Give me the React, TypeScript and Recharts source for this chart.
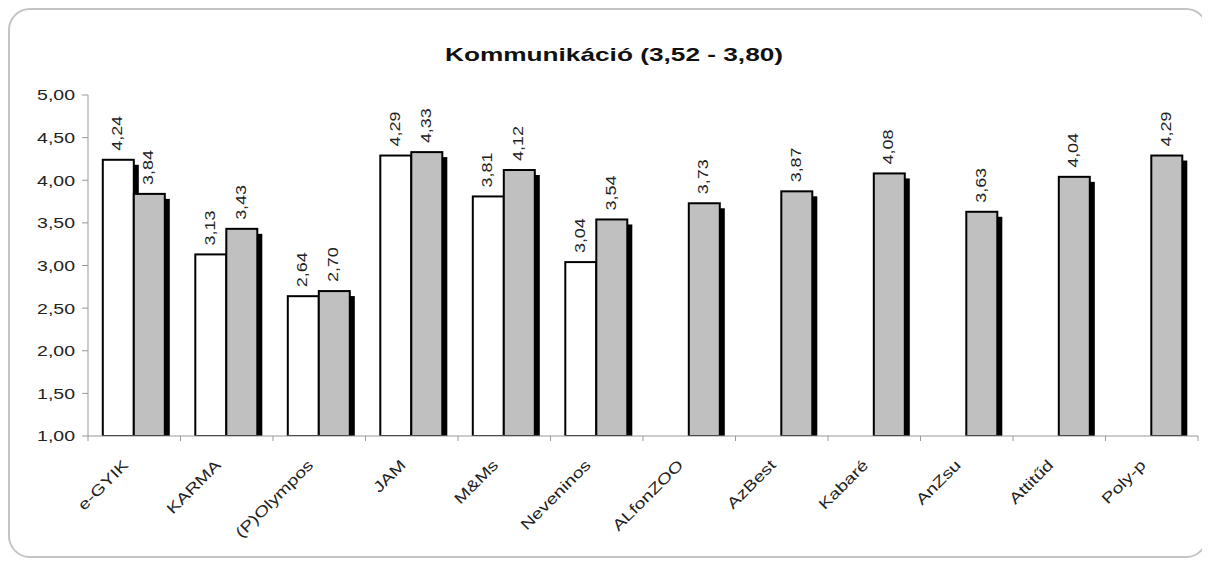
import React from 'react';
import { BarChart, Bar, XAxis, YAxis, LabelList } from 'recharts';

const FONT = '"Liberation Sans", Arial, sans-serif';
// the source renders its text noticeably wide, so glyphs get stretched along the baseline
const STRETCH = 1.3;

const teams = ['e-GYIK', 'KARMA', '(P)Olympos', 'JAM', 'M&Ms', 'Neveninos', 'ALfonZOO', 'AzBest', 'Kabaré', 'AnZsu', 'Attitűd', 'Poly-p'];
const whiteValues = [4.24, 3.13, 2.64, 4.29, 3.81, 3.04, null, null, null, null, null, null];
const grayValues = [3.84, 3.43, 2.7, 4.33, 4.12, 3.54, 3.73, 3.87, 4.08, 3.63, 4.04, 4.29];
const yTicks = [1, 1.5, 2, 2.5, 3, 3.5, 4, 4.5, 5];

const data = teams.map((name, i) => ({ name, a: whiteValues[i], b: grayValues[i] }));

const fmt = (v: number) => v.toFixed(2).replace('.', ',');

const ShadowBar = (props: any) => {
  const { x, y, width, height, fill } = props;
  if (height == null || height <= 0) return null;
  return (
    <g>
      <rect x={x + 5} y={y + 5} width={width} height={Math.max(height - 5, 0)} fill="#000" />
      <rect x={x} y={y} width={width} height={height} fill={fill} stroke="#000" strokeWidth={2} />
    </g>
  );
};

const ValueLabel = (props: any) => {
  const { x, y, width, value } = props;
  if (value == null) return null;
  const cx = x + width / 2 + 4;
  const cy = y - 9;
  return (
    <text transform={`translate(${cx},${cy}) rotate(-90) scale(${STRETCH * 0.92},1)`} textAnchor="start"
      fontSize={15} fontFamily={FONT} fill="#222">
      {fmt(value)}
    </text>
  );
};

const ValueTick = (props: any) => {
  const { x, y, payload } = props;
  return (
    <text transform={`translate(${x - 5},${y}) scale(${STRETCH},1)`} textAnchor="end" dy="0.36em"
      fontSize={15} fontFamily={FONT} fill="#222">
      {fmt(payload.value)}
    </text>
  );
};

const CategoryTick = (props: any) => {
  const { x, y, payload, index, visibleTicksCount } = props;
  const half = payload && payload.offset ? payload.offset : 46.25;
  const tx = x - 5;
  const ty = y + 22;
  return (
    <g>
      <line x1={x - half} x2={x - half} y1={y - 8} y2={y - 3} stroke="#999" />
      {index === visibleTicksCount - 1 && (
        <line x1={x + half} x2={x + half} y1={y - 8} y2={y - 3} stroke="#999" />
      )}
      <text transform={`translate(${tx},${ty}) rotate(-45) scale(${STRETCH},1)`} textAnchor="end"
        fontSize={15} fontFamily={FONT} fill="#222">
        {payload.value}
      </text>
    </g>
  );
};

export default function App() {
  return (
    <div style={{
      position: 'relative', width: 1196, height: 546, border: '2px solid #c4c4c4',
      borderRadius: 22, background: '#fff', fontFamily: FONT,
    }}>
      <div style={{
        position: 'absolute', top: 34, left: 0, width: 1208, textAlign: 'center',
        fontWeight: 'bold', fontSize: 19, color: '#111',
        transform: 'scaleX(1.38)', transformOrigin: '604px 0',
      }}>
        Kommunikáció (3,52 - 3,80)
      </div>
      <BarChart width={1196} height={546} data={data}
        margin={{ top: 85, right: 8, left: 0, bottom: 0 }}
        barCategoryGap="16%" barGap={0}>
        <XAxis dataKey="name" height={120} axisLine={{ stroke: '#999' }} tickLine={false}
          interval={0} tick={<CategoryTick />} />
        <YAxis domain={[1, 5]} ticks={yTicks} width={78} axisLine={{ stroke: '#999' }}
          tickLine={{ stroke: '#999' }} tickSize={6} tick={<ValueTick />} allowDataOverflow />
        <Bar dataKey="a" fill="#ffffff" shape={<ShadowBar />} isAnimationActive={false}>
          <LabelList dataKey="a" content={<ValueLabel />} />
        </Bar>
        <Bar dataKey="b" fill="#c0c0c0" shape={<ShadowBar />} isAnimationActive={false}>
          <LabelList dataKey="b" content={<ValueLabel />} />
        </Bar>
      </BarChart>
    </div>
  );
}
